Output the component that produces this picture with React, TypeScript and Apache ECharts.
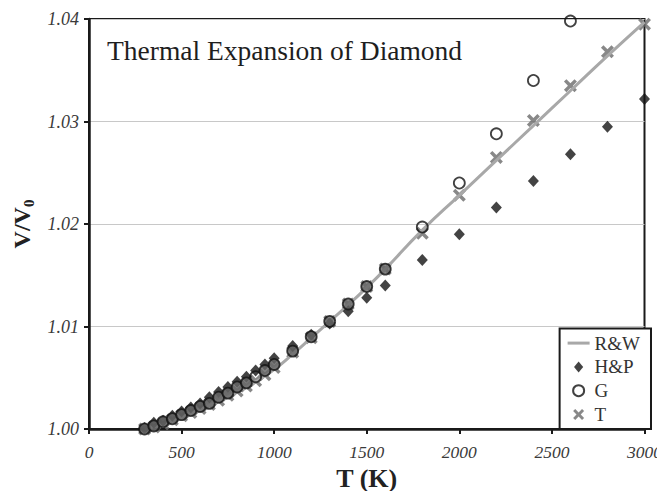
import React, { useEffect, useRef } from "react";
import * as echarts from "echarts";

// Temperatures (K) and relative volume V/V0 for each data set
const tempsLow = [300, 350, 400, 450, 500, 550, 600, 650, 700, 750, 800, 850, 900, 950, 1000];
const tempsHigh = [1100, 1200, 1300, 1400, 1500, 1600, 1800, 2000, 2200, 2400, 2600, 2800, 3000];

// R&W smooth curve
const rwTemps = [300, 400, 500, 600, 700, 800, 900, 1000, 1100, 1200, 1300, 1400, 1500, 1600, 1800, 2000, 2200, 2400, 2600, 2800, 3000];
const rwValues = [1.0, 1.0005, 1.0012, 1.0019, 1.0027, 1.0036, 1.0046, 1.0058, 1.0073, 1.0089, 1.0105, 1.0121, 1.0138, 1.0156, 1.0194, 1.0228, 1.0262, 1.0296, 1.033, 1.0364, 1.0397];

// H&P
const hpValues = [
  1.0001, 1.0006, 1.0008, 1.0013, 1.0017, 1.0021, 1.0025, 1.0031, 1.0036, 1.0041, 1.0046, 1.0051, 1.0057, 1.0063, 1.0069,
  1.0081, 1.0092, 1.0103, 1.0115, 1.0128, 1.014, 1.0165, 1.019, 1.0216, 1.0242, 1.0268, 1.0295, 1.0322,
];

// G (no point beyond 2600 K)
const gValues = [
  1.0, 1.0003, 1.0007, 1.001, 1.0014, 1.0018, 1.0022, 1.0025, 1.0031, 1.0035, 1.0041, 1.0045, 1.0051, 1.0057, 1.0063,
  1.0076, 1.009, 1.0105, 1.0122, 1.0139, 1.0156, 1.0197, 1.024, 1.0288, 1.034, 1.0398,
];

// T
const tValues = [
  1.0, 1.0002, 1.0005, 1.0009, 1.0013, 1.0016, 1.002, 1.0024, 1.0028, 1.0033, 1.0037, 1.0042, 1.0047, 1.0053, 1.006,
  1.0075, 1.0089, 1.0105, 1.0122, 1.0139, 1.0156, 1.0191, 1.0228, 1.0265, 1.0301, 1.0335, 1.0368, 1.0395,
];

const xTicks = { min: 0, max: 3000, interval: 500 };
const yTicks = { min: 1.0, max: 1.04, interval: 0.01 };

const allTemps = [...tempsLow, ...tempsHigh];
const pair = (xs: number[], ys: number[]) => ys.map((v, i) => [xs[i], v]);

const SERIF = "'Liberation Serif', 'DejaVu Serif', serif";
const CROSS =
  "path://M0,2.3 L2.3,0 L6,3.7 L9.7,0 L12,2.3 L8.3,6 L12,9.7 L9.7,12 L6,8.3 L2.3,12 L0,9.7 L3.7,6 Z";
const DIAMOND = "path://M5,0 L10,6 L5,12 L0,6 Z";
const DASH = "path://M0,0 H22 V3 H0 Z";

const CROSS_GREY = "#6a6a6a";

// G circles that sit on top of a T cross take on the cross's grey
const gData = gValues.map((v, i) => {
  const overlaps = Math.abs(v - tValues[i]) <= 0.0004;
  return {
    value: [allTemps[i], v],
    itemStyle: overlaps ? { color: "#676767" } : undefined,
  };
});

export default function App() {
  const ref = useRef<HTMLDivElement>(null);

  useEffect(() => {
    if (!ref.current) return;
    const chart = echarts.init(ref.current, undefined, { renderer: "svg" });
    chart.setOption({
      animation: false,
      backgroundColor: "#ffffff",
      title: {
        text: "Thermal Expansion of Diamond",
        left: 107,
        top: 36,
        padding: 0,
        textStyle: { fontFamily: SERIF, fontSize: 27.5, fontWeight: "normal", color: "#1e1e1e" },
      },
      grid: {
        left: 89,
        right: 14,
        top: 19,
        bottom: 70,
        show: true,
        borderColor: "#1a1a1a",
        borderWidth: 2,
        containLabel: false,
      },
      legend: {
        orient: "vertical",
        right: 14,
        bottom: 70,
        padding: [5, 11, 5, 8],
        itemWidth: 22,
        itemHeight: 11,
        itemGap: 4.8,
        borderColor: "#1a1a1a",
        borderWidth: 2,
        borderRadius: 0,
        backgroundColor: "#ffffff",
        textStyle: { fontFamily: SERIF, fontSize: 19, color: "#333", lineHeight: 18 },
        data: [
          { name: "R&W", icon: DASH },
          { name: "H&P" },
          { name: "G" },
          { name: "T" },
        ],
      },
      xAxis: {
        type: "value",
        min: xTicks.min,
        max: xTicks.max,
        interval: xTicks.interval,
        name: "T (K)",
        nameLocation: "middle",
        nameGap: 36,
        nameTextStyle: { fontFamily: SERIF, fontSize: 26, fontWeight: "bold", color: "#222" },
        axisLine: { show: true, onZero: false, lineStyle: { color: "#1a1a1a", width: 2.5 } },
        axisTick: { show: true, inside: false, length: 5, lineStyle: { color: "#1a1a1a", width: 2 } },
        axisLabel: {
          fontFamily: SERIF,
          fontStyle: "italic",
          fontSize: 17.5,
          color: "#3a3a3a",
          margin: 14,
          formatter: (v: number) => String(v),
        },
        splitLine: { show: false },
      },
      yAxis: {
        type: "value",
        min: yTicks.min,
        max: yTicks.max,
        interval: yTicks.interval,
        name: "{a|V/V}{b|0}",
        nameLocation: "middle",
        nameGap: 50,
        nameRotate: 90,
        nameTextStyle: {
          rich: {
            a: { fontFamily: SERIF, fontSize: 24, fontWeight: "bold", color: "#222", lineHeight: 30 },
            b: { fontFamily: SERIF, fontSize: 15, fontWeight: "bold", color: "#222", lineHeight: 30, verticalAlign: "bottom", padding: [8, 0, 0, 0] },
          },
        },
        axisLine: { show: true, lineStyle: { color: "#1a1a1a", width: 2.5 } },
        axisTick: { show: true, inside: false, length: 5, lineStyle: { color: "#1a1a1a", width: 2 } },
        axisLabel: {
          fontFamily: SERIF,
          fontStyle: "italic",
          fontSize: 18,
          color: "#3a3a3a",
          margin: 10,
          formatter: (v: number) => v.toFixed(2),
        },
        splitLine: { show: true, lineStyle: { color: "#c8c8c8", width: 1 } },
      },
      series: [
        {
          name: "T",
          type: "scatter",
          z: 2,
          symbol: CROSS,
          symbolSize: 13,
          itemStyle: { color: CROSS_GREY },
          data: pair(allTemps, tValues),
        },
        {
          name: "R&W",
          type: "line",
          z: 3,
          symbol: "none",
          smooth: true,
          lineStyle: { color: "#a8a8a8", width: 3 },
          itemStyle: { color: "#a8a8a8" },
          data: pair(rwTemps, rwValues),
        },
        {
          name: "H&P",
          type: "scatter",
          z: 4,
          symbol: DIAMOND,
          symbolSize: [11, 12],
          itemStyle: { color: "#141414" },
          data: pair(allTemps, hpValues),
        },
        {
          name: "G",
          type: "scatter",
          z: 5,
          symbol: "circle",
          symbolSize: 11,
          itemStyle: { color: "rgba(255,255,255,0)", borderColor: "#111", borderWidth: 1.8 },
          data: gData,
        },
      ],
    });
    return () => chart.dispose();
  }, []);

  return <div ref={ref} style={{ width: 665, height: 499, margin: -8 }} />;
}
